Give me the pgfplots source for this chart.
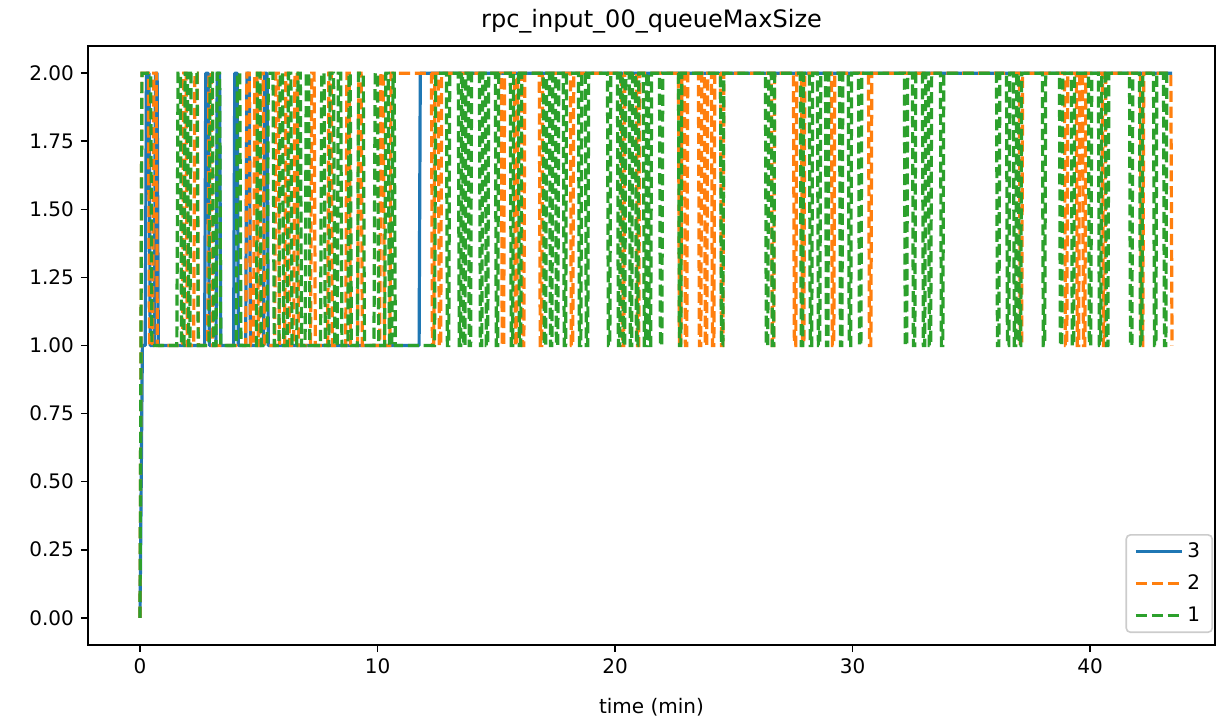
\documentclass[border=0pt]{standalone}
\usepackage{fontspec}
\setmainfont{DejaVu Sans}
\usepackage{pgfplots}
\pgfplotsset{compat=1.18}
\definecolor{c3}{HTML}{1F77B4}
\definecolor{c2}{HTML}{FF7F0E}
\definecolor{c1}{HTML}{2CA02C}
\begin{document}
\begin{tikzpicture}
\begin{axis}[
  width=563.5pt, height=299.5pt, scale only axis,
  xmin=-2.19, xmax=45.26, ymin=-0.1, ymax=2.1,
  xtick={0,10,20,30,40},
  ytick={0,0.25,0.5,0.75,1,1.25,1.5,1.75,2},
  /pgf/number format/assume math mode=true,
  yticklabel style={/pgf/number format/fixed,/pgf/number format/fixed zerofill,/pgf/number format/precision=2},
  ticklabel style={font=\fontsize{10}{12}\selectfont},
  tick align=outside, tick pos=left, major tick length=3.5pt,
  major tick style={line width=0.8pt, black},
  axis line style={line width=0.8pt},
  title={rpc\_input\_00\_queueMaxSize},
  title style={font=\fontsize{12}{14}\selectfont, at={(0.5,1)}, anchor=base, yshift=3pt},
  xlabel={time (min)},
  xlabel style={font=\fontsize{10}{12}\selectfont, at={(0.5,0)}, anchor=base, yshift=-34pt},
  legend cell align=left,
  legend image code/.code={\draw[#1] (0pt,0pt) -- (23pt,0pt);},
  legend style={at={(1,0)}, anchor=south east, xshift=-1pt, yshift=6pt, draw=black!20, line width=0.8pt, rounded corners=2pt, font=\fontsize{10}{12}\selectfont, inner xsep=4pt, inner ysep=2pt, row sep=3pt},
  no markers,
]
\coordinate (bbsw) at (rel axis cs:0,0);
\coordinate (bbne) at (rel axis cs:1,1);
\addplot[c3, line width=1.6pt, line join=round] coordinates {
(0,0) (0.1,1) (0.22,1) (0.27,2) (0.38,2) (0.43,1) (0.6,1) (0.65,2) (0.72,2) (0.77,1)
(2.72,1)(2.77,2)(2.87,2)(2.92,1)
(3.2,1)(3.25,2)(3.35,2)(3.4,1)
(3.94,1)(3.99,2)(4.09,2)(4.14,1)
(4.45,1)(4.5,2)(4.6,2)(4.65,1)
(5.2,1)(5.25,2)(5.35,2)(5.4,1)
(11.75,1)(11.8,2)(43.45,2)
};
\addlegendentry{3}
\addplot[c2, line width=1.6pt, dash pattern=on 5.55pt off 2.4pt] coordinates {
(0,0)(0.08,2)(0.35,2)(0.4,1)
(0.53,1)(0.58,2)(0.68,2)(0.73,1)
(1.79,1)(1.84,2)(1.94,2)(1.99,1)
(2.26,1)(2.31,2)(2.41,2)(2.46,1)
(2.85,1)(2.9,2)(3.0,2)(3.05,1)
(4.45,1)(4.5,2)(4.6,2)(4.65,1)
(4.78,1)(4.83,2)(4.93,2)(4.98,1)
(5.04,1)(5.09,2)(5.19,2)(5.24,1)
(5.67,1)(5.72,2)(5.82,2)(5.87,1)
(6.09,1)(6.14,2)(6.24,2)(6.29,1)
(6.47,1)(6.52,2)(6.62,2)(6.67,1)
(7.18,1)(7.23,2)(7.33,2)(7.38,1)
(7.9,1)(7.95,2)(8.05,2)(8.1,1)
(8.66,1)(8.71,2)(8.81,2)(8.86,1)
(9.16,1)(9.21,2)(9.31,2)(9.36,1)
(10.09,1)(10.14,2)(10.24,2)(10.29,1)
(10.52,1)(10.57,2)
(12.27,2)(12.31,1)(12.37,1)(12.41,2)
(12.56,2)(12.6,1)(12.66,1)(12.7,2)
(15.21,2)(15.25,1)(15.31,1)(15.35,2)
(15.76,2)(15.8,1)(15.86,1)(15.9,2)
(16.06,2)(16.1,1)(16.16,1)(16.2,2)
(16.81,2)(16.85,1)(16.91,1)(16.95,2)
(18.12,2)(18.16,1)(18.22,1)(18.26,2)
(20.27,2)(20.31,1)(20.37,1)(20.41,2)
(20.9,2)(20.94,1)(21.0,1)(21.04,2)
(22.67,2)(22.71,1)(22.77,1)(22.81,2)
(22.92,2)(22.96,1)(23.02,1)(23.06,2)
(23.51,2)(23.55,1)(23.61,1)(23.65,2)
(23.76,2)(23.8,1)(23.86,1)(23.9,2)
(24.06,2)(24.1,1)(24.16,1)(24.2,2)
(24.44,2)(24.48,1)(24.54,1)(24.58,2)
(26.58,2)(26.62,1)(26.68,1)(26.72,2)
(27.51,2)(27.55,1)(27.61,1)(27.65,2)
(27.85,2)(27.89,1)(27.95,1)(27.99,2)
(29.11,2)(29.15,1)(29.21,1)(29.25,2)
(30.67,2)(30.71,1)(30.77,1)(30.81,2)
(37.02,2)(37.06,1)(37.12,1)(37.16,2)
(38.92,2)(38.96,1)(39.02,1)(39.06,2)
(39.42,2)(39.46,1)(39.52,1)(39.56,2)
(39.68,2)(39.72,1)(39.78,1)(39.82,2)
(40.52,2)(40.56,1)(40.62,1)(40.66,2)
(42.12,2)(42.16,1)(42.22,1)(42.26,2)
(43.4,2)(43.45,1)
};
\addlegendentry{2}
\addplot[c1, line width=1.6pt, dash pattern=on 5.55pt off 2.4pt] coordinates {
(0,0)(0.08,2)(0.45,2)(0.5,1)
(1.55,1)(1.6,2)(1.7,2)(1.75,1)(1.85,1)(1.9,2)(2.0,2)(2.05,1)
(2.1,1)(2.15,2)(2.4,2)(2.45,1)
(2.9,1)(2.95,2)(3.05,2)(3.1,1)(3.2,1)(3.25,2)(3.35,2)(3.4,1)
(4.05,1)(4.1,2)(4.2,2)(4.25,1)
(4.9,1)(4.95,2)(5.05,2)(5.1,1)
(5.35,1)(5.4,2)(5.6,2)(5.65,1)
(5.85,1)(5.9,2)(6.0,2)(6.05,1)(6.2,1)(6.25,2)(6.35,2)(6.4,1)
(6.6,1)(6.65,2)(6.75,2)(6.8,1)(6.95,1)(7.0,2)(7.1,2)(7.15,1)
(7.6,1)(7.65,2)(7.75,2)(7.8,1)(7.95,1)(8.0,2)(8.15,2)(8.2,1)
(8.3,1)(8.35,2)(8.45,2)(8.5,1)(8.75,1)(8.8,2)(8.85,2)(8.9,1)
(9.15,1)(9.2,2)(9.4,2)(9.45,1)
(9.85,1)(9.9,2)(10.0,2)(10.05,1)(10.3,1)(10.35,2)(10.45,2)(10.5,1)
(10.6,1)(10.65,2)(10.7,2)(10.75,1)
(12.4,1)(12.45,2)
(12.9,2)(12.94,1)(13.0,1)(13.04,2)
(13.4,2)(13.44,1)(13.5,1)(13.54,2)
(13.58,2)(13.62,1)(13.68,1)(13.72,2)
(13.82,2)(13.86,1)(13.92,1)(13.96,2)
(14.29,2)(14.33,1)(14.39,1)(14.43,2)
(14.54,2)(14.58,1)(14.64,1)(14.68,2)
(14.96,2)(15.0,1)(15.06,1)(15.1,2)
(15.59,2)(15.63,1)(15.69,1)(15.73,2)
(15.93,2)(15.97,1)(16.03,1)(16.07,2)
(16.98,2)(17.02,1)(17.08,1)(17.12,2)
(17.24,2)(17.28,1)(17.34,1)(17.38,2)
(17.49,2)(17.53,1)(17.59,1)(17.63,2)
(17.82,2)(17.86,1)(17.92,1)(17.96,2)
(18.46,2)(18.5,1)(18.56,1)(18.6,2)
(18.75,2)(18.79,1)(18.85,1)(18.89,2)
(19.68,2)(19.72,1)(19.78,1)(19.82,2)
(20.1,2)(20.14,1)(20.2,1)(20.24,2)
(20.31,2)(20.35,1)(20.41,1)(20.45,2)
(20.6,2)(20.64,1)(20.7,1)(20.74,2)
(20.86,2)(20.9,1)(20.96,1)(21.0,2)
(21.19,2)(21.23,1)(21.29,1)(21.33,2)
(21.4,2)(21.44,1)(21.5,1)(21.54,2)
(21.87,2)(21.91,1)(21.97,1)(22.01,2)
(22.67,2)(22.71,1)(22.77,1)(22.81,2)
(24.44,2)(24.48,1)(24.54,1)(24.58,2)
(26.33,2)(26.37,1)(26.43,1)(26.47,2)
(26.58,2)(26.62,1)(26.68,1)(26.72,2)
(27.8,2)(27.84,1)(27.9,1)(27.94,2)
(28.18,2)(28.22,1)(28.28,1)(28.32,2)
(28.52,2)(28.56,1)(28.62,1)(28.66,2)
(28.86,2)(28.9,1)(28.96,1)(29.0,2)
(29.45,2)(29.49,1)(29.55,1)(29.59,2)
(29.82,2)(29.86,1)(29.92,1)(29.96,2)
(30.25,2)(30.29,1)(30.35,1)(30.39,2)
(32.18,2)(32.22,1)(32.28,1)(32.32,2)
(32.52,2)(32.56,1)(32.62,1)(32.66,2)
(32.94,2)(32.98,1)(33.04,1)(33.08,2)
(33.19,2)(33.23,1)(33.29,1)(33.33,2)
(33.7,2)(33.74,1)(33.8,1)(33.84,2)
(36.06,2)(36.1,1)(36.16,1)(36.2,2)
(36.48,2)(36.52,1)(36.58,1)(36.62,2)
(36.77,2)(36.81,1)(36.87,1)(36.91,2)
(36.98,2)(37.02,1)(37.08,1)(37.12,2)
(37.99,2)(38.03,1)(38.09,1)(38.13,2)
(38.71,2)(38.75,1)(38.81,1)(38.85,2)
(39.21,2)(39.25,1)(39.31,1)(39.35,2)
(39.93,2)(39.97,1)(40.03,1)(40.07,2)
(40.35,2)(40.39,1)(40.45,1)(40.49,2)
(40.65,2)(40.69,1)(40.75,1)(40.79,2)
(41.66,2)(41.7,1)(41.76,1)(41.8,2)
(42.08,2)(42.12,1)(42.18,1)(42.22,2)
(42.67,2)(42.71,1)(42.77,1)(42.81,2)
(43.09,2)(43.13,1)(43.19,1)(43.23,2)
(43.45,2)
};
\addlegendentry{1}
\end{axis}
\pgfresetboundingbox
\path[use as bounding box] ([shift={(-44pt,-38pt)}]bbsw) rectangle ([shift={(1pt,23pt)}]bbne);
\end{tikzpicture}
\end{document}
